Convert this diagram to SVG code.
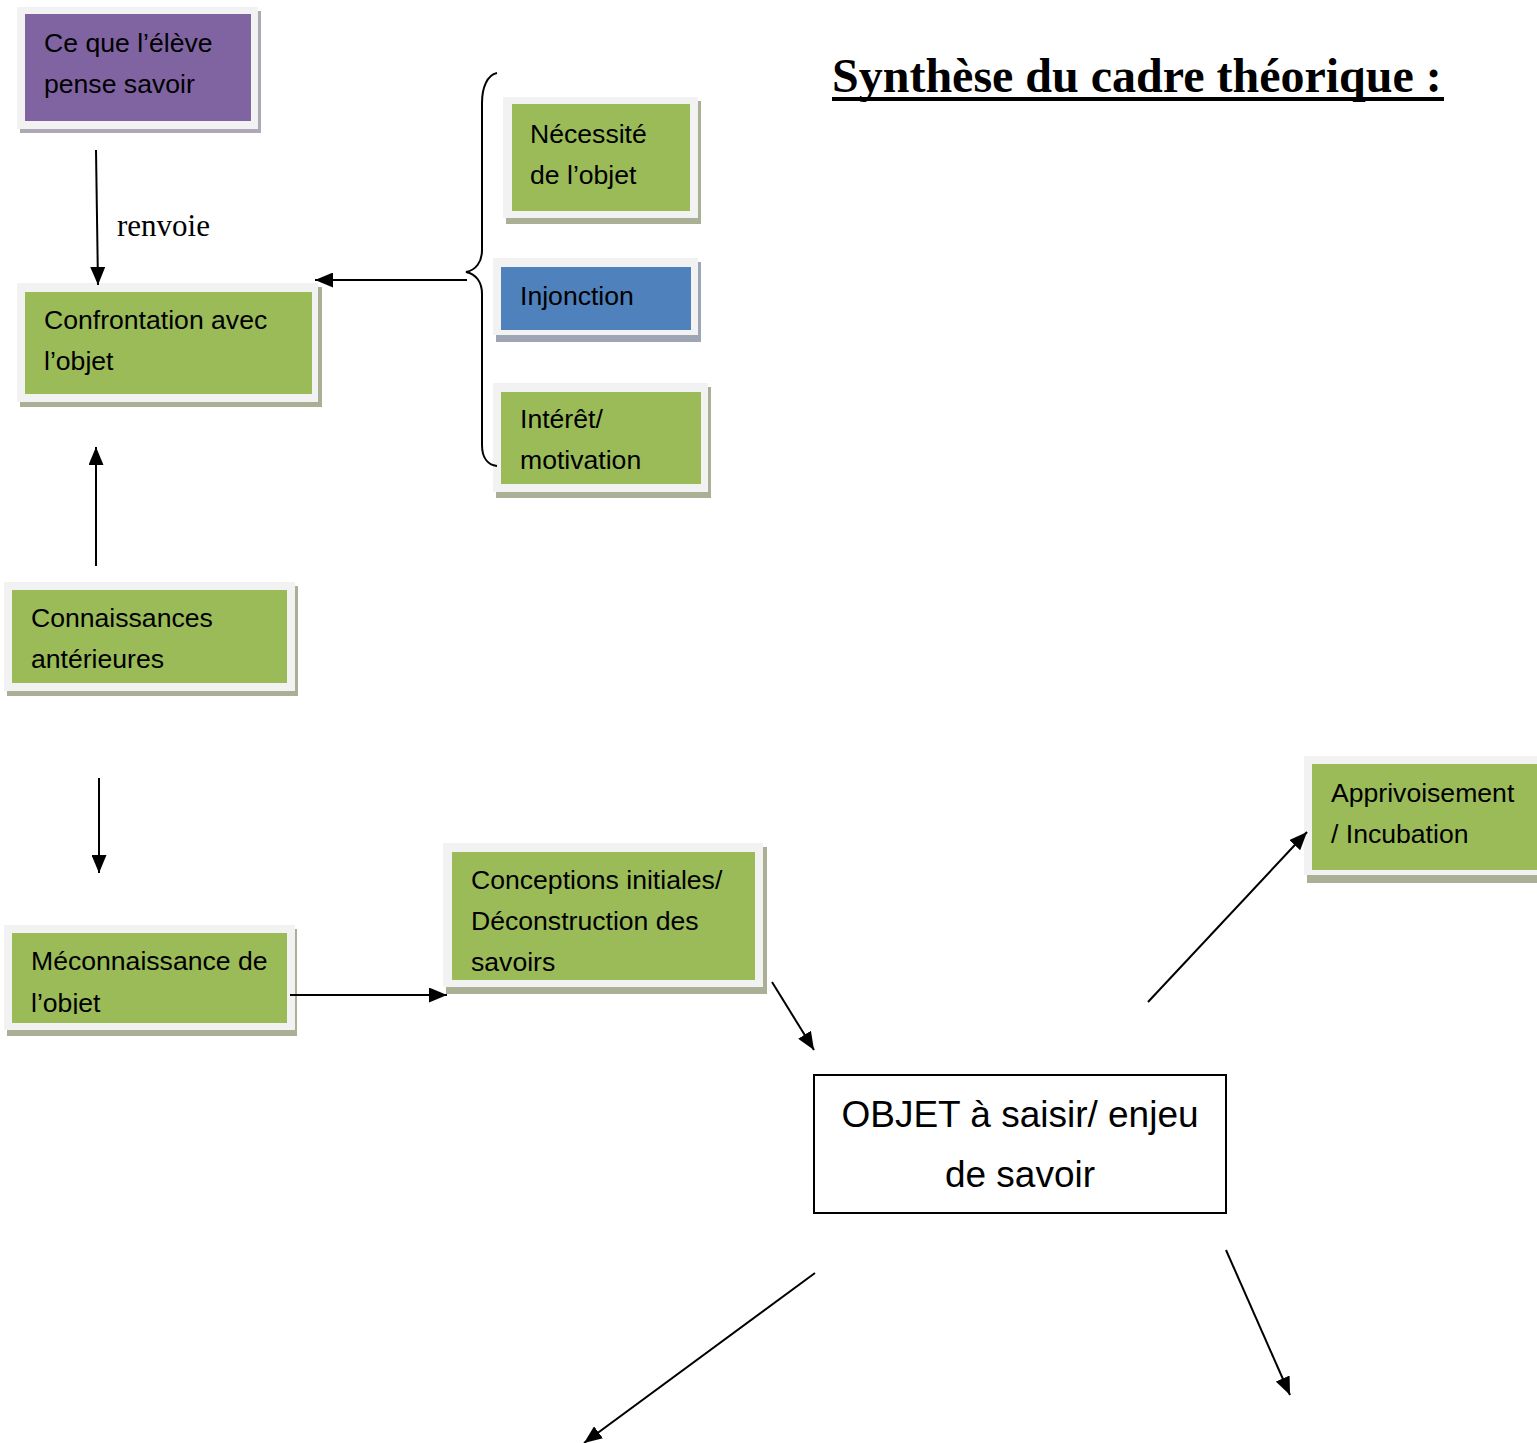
<svg xmlns="http://www.w3.org/2000/svg" width="1537" height="1443" viewBox="0 0 1537 1443">
<style>
.frame{fill:#f2f2f2}
.sh-g{fill:#a9b096}
.sh-b{fill:#9ea6b6}
.sh-p{fill:#aea7b6}
.g{fill:#9bbb59}
.b{fill:#4f81bd}
.p{fill:#8064a2}
.t{font-family:"Liberation Sans",Arial,sans-serif;font-size:26.6px;fill:#000}
.big{font-family:"Liberation Sans",Arial,sans-serif;font-size:37px;fill:#000;text-anchor:middle}
.ln{stroke:#000;stroke-width:2;fill:none}
</style>
<defs>
<marker id="ah" markerUnits="userSpaceOnUse" markerWidth="18" markerHeight="15" refX="18" refY="7.5" orient="auto">
<path d="M0,0 L18,7.5 L0,15 z" fill="#000"/>
</marker>
<clipPath id="clipMec"><rect x="0" y="925" width="300" height="89"/></clipPath>
</defs>
<rect width="1537" height="1443" fill="#fff"/>

<g id="title">
<text x="832" y="92" font-family="Liberation Serif,Times New Roman,serif" font-size="48" font-weight="bold">Synthèse du cadre théorique :</text>
<rect x="832" y="97" width="612" height="4" fill="#000"/>
</g>

<g id="node-eleve">
<rect class="sh-p" x="20" y="11" width="241" height="122"/>
<rect class="frame" x="17" y="7" width="241" height="122"/>
<rect class="p" x="25" y="14" width="226" height="107"/>
<text class="t" x="44" y="52">Ce que l’élève</text>
<text class="t" x="44" y="93">pense savoir</text>
</g>

<g id="node-necessite">
<rect class="sh-g" x="506" y="101" width="195" height="123"/>
<rect class="frame" x="503" y="97" width="195" height="121"/>
<rect class="g" x="512" y="104" width="178" height="107"/>
<text class="t" x="530" y="143">Nécessité</text>
<text class="t" x="530" y="184">de l’objet</text>
</g>

<g id="node-injonction">
<rect class="sh-b" x="496" y="262" width="205" height="80"/>
<rect class="frame" x="493" y="258" width="205" height="77"/>
<rect class="b" x="501" y="267" width="190" height="63"/>
<text class="t" x="520" y="305">Injonction</text>
</g>

<g id="node-interet">
<rect class="sh-g" x="496" y="387" width="215" height="111"/>
<rect class="frame" x="493" y="383" width="215" height="109"/>
<rect class="g" x="501" y="392" width="200" height="92"/>
<text class="t" x="520" y="428">Intérêt/</text>
<text class="t" x="520" y="469">motivation</text>
</g>

<g id="node-confrontation">
<rect class="sh-g" x="20" y="287" width="302" height="120"/>
<rect class="frame" x="17" y="283" width="301" height="119"/>
<rect class="g" x="25" y="292" width="287" height="102"/>
<text class="t" x="44" y="329">Confrontation avec</text>
<text class="t" x="44" y="370">l’objet</text>
</g>

<g id="node-connaissances">
<rect class="sh-g" x="7" y="586" width="291" height="110"/>
<rect class="frame" x="4" y="582" width="291" height="109"/>
<rect class="g" x="12" y="590" width="275" height="93"/>
<text class="t" x="31" y="627">Connaissances</text>
<text class="t" x="31" y="668">antérieures</text>
</g>

<g id="node-meconnaissance">
<rect class="sh-g" x="7" y="929" width="290" height="107"/>
<rect class="frame" x="4" y="925" width="291" height="105"/>
<rect class="g" x="12" y="933" width="275" height="90"/>
<g clip-path="url(#clipMec)">
<text class="t" x="31" y="970">Méconnaissance de</text>
<text class="t" x="31" y="1012">l’objet</text>
</g>
</g>

<g id="node-conceptions">
<rect class="sh-g" x="446" y="847" width="321" height="147"/>
<rect class="frame" x="443" y="843" width="320" height="144"/>
<rect class="g" x="452" y="852" width="303" height="128"/>
<text class="t" x="471" y="889">Conceptions initiales/</text>
<text class="t" x="471" y="930">Déconstruction des</text>
<text class="t" x="471" y="971">savoirs</text>
</g>

<g id="node-objet">
<rect x="814" y="1075" width="412" height="138" fill="#fff" stroke="#000" stroke-width="2"/>
<text class="big" x="1020" y="1127">OBJET à saisir/ enjeu</text>
<text class="big" x="1020" y="1187">de savoir</text>
</g>

<g id="node-apprivoisement">
<rect class="sh-g" x="1307" y="760" width="240" height="123"/>
<rect class="frame" x="1304" y="756" width="240" height="119"/>
<rect class="g" x="1312" y="764" width="230" height="106"/>
<text class="t" x="1331" y="802">Apprivoisement</text>
<text class="t" x="1331" y="843">/ Incubation</text>
</g>

<g id="connectors">
<path class="ln" d="M497,73 C487,75 482,88 482,103 L482,250 C482,262 476,270 466,272 C476,274 482,282 482,294 L482,445 C482,458 488,465 497,466"/>
<line class="ln" x1="96" y1="150" x2="98" y2="285" marker-end="url(#ah)"/>
<line class="ln" x1="467" y1="280" x2="315" y2="280" marker-end="url(#ah)"/>
<line class="ln" x1="96" y1="566" x2="96" y2="447" marker-end="url(#ah)"/>
<line class="ln" x1="99" y1="778" x2="99" y2="873" marker-end="url(#ah)"/>
<line class="ln" x1="290" y1="995" x2="447" y2="995" marker-end="url(#ah)"/>
<line class="ln" x1="772" y1="982" x2="814" y2="1050" marker-end="url(#ah)"/>
<line class="ln" x1="1148" y1="1002" x2="1307" y2="832" marker-end="url(#ah)"/>
<line class="ln" x1="815" y1="1273" x2="584" y2="1443" marker-end="url(#ah)"/>
<line class="ln" x1="1226" y1="1250" x2="1290" y2="1395" marker-end="url(#ah)"/>
<text x="117" y="236" font-family="Liberation Serif,Times New Roman,serif" font-size="31">renvoie</text>
</g>
</svg>
